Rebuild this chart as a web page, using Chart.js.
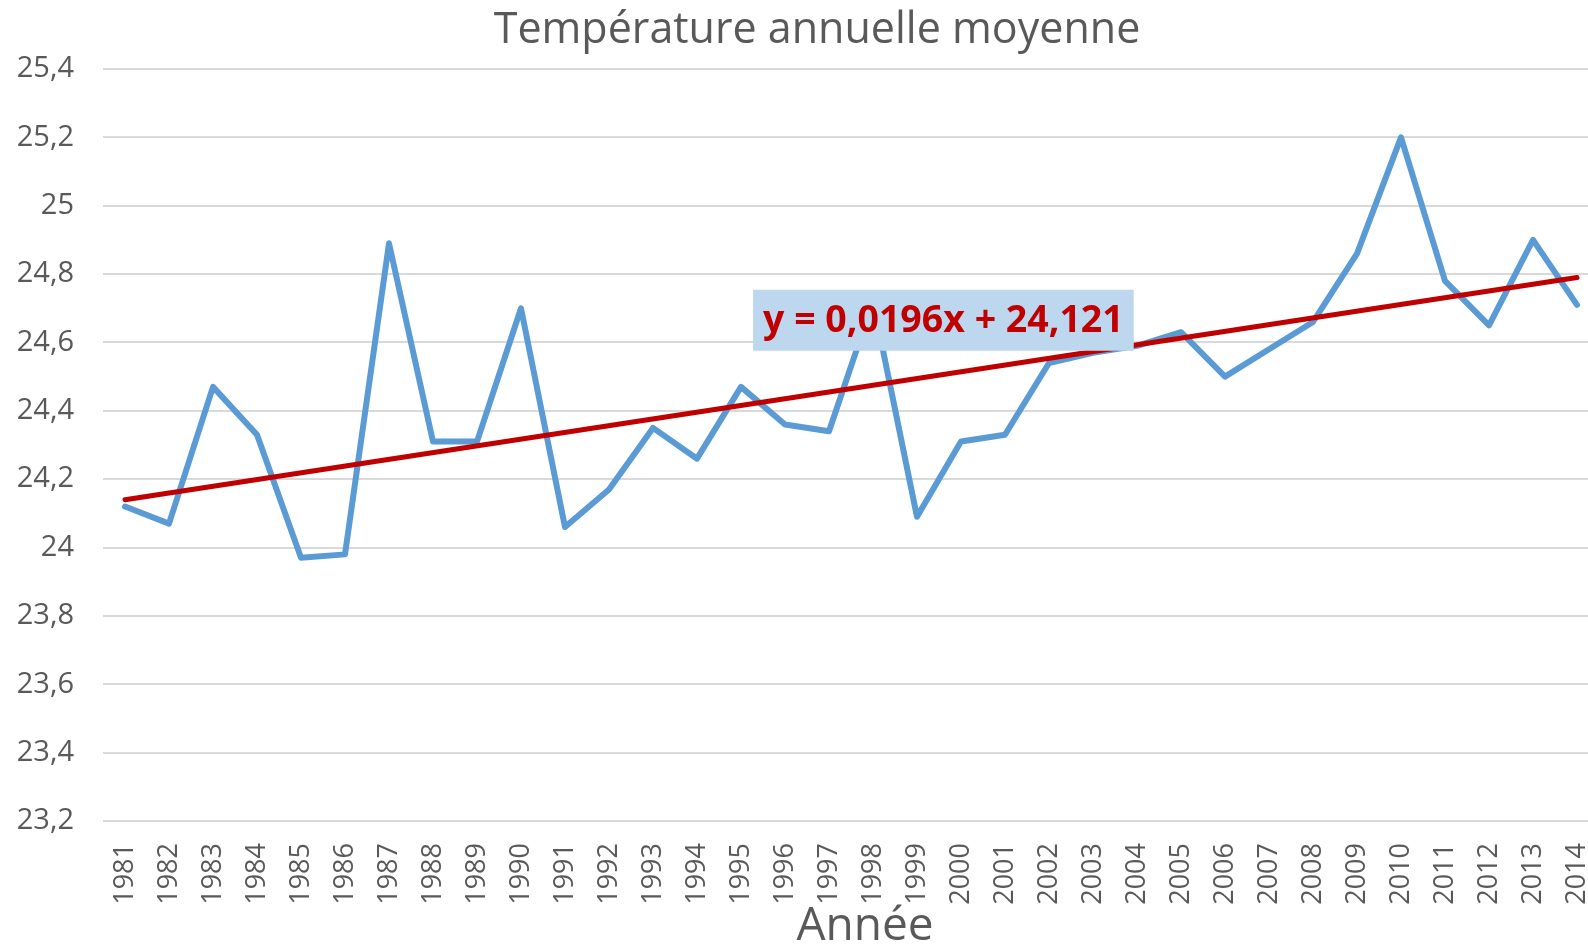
<!DOCTYPE html>
<html>
<head>
<meta charset="utf-8">
<script src="https://cdn.jsdelivr.net/npm/chart.js@4"></script>
<style>
  html, body { margin: 0; padding: 0; background: #fff; overflow: hidden; }
  #wrap { width: 1634px; height: 944px; }
</style>
</head>
<body>
<div id="wrap"><canvas id="temp-chart" width="1634" height="944"></canvas></div>
<script>
// Years on the category axis
const years = [
  "1981", "1982", "1983", "1984", "1985", "1986", "1987", "1988", "1989", "1990",
  "1991", "1992", "1993", "1994", "1995", "1996", "1997", "1998", "1999", "2000",
  "2001", "2002", "2003", "2004", "2005", "2006", "2007", "2008", "2009", "2010",
  "2011", "2012", "2013", "2014",
];

// Mean annual temperature
const temperatures = [
  24.12, 24.07, 24.47, 24.33, 23.97, 23.98, 24.89, 24.31, 24.31, 24.70,
  24.06, 24.17, 24.35, 24.26, 24.47, 24.36, 24.34, 24.72, 24.09, 24.31,
  24.33, 24.54, 24.57, 24.59, 24.63, 24.50, 24.58, 24.66, 24.86, 25.20,
  24.78, 24.65, 24.90, 24.71,
];

// Linear trend line: its two ends
const trendYears = ["1981", "2014"];
const trendValues = [24.14, 24.79];
const trendLabel = "y = 0,0196x + 24,121";

// Y axis range and step
const yMin = 23.2;
const yMax = 25.4;
const yStep = 0.2;

const chartTitle = "Température annuelle moyenne";
const xTitle = "Année";

const textColor = "#595959";
const fontFamily = "'Open Sans', sans-serif";

// Draws the equation box of the trend line, over the series
const trendLabelPlugin = {
  id: "trendLabel",
  afterDatasetsDraw(chart) {
    const { ctx, scales } = chart;
    const cx = scales.x.getPixelForValue(18.6); // between 1999 and 2000
    const cy = scales.y.getPixelForValue(24.665);
    ctx.save();
    ctx.font = "bold 37.5px " + fontFamily;
    const w = ctx.measureText(trendLabel).width + 20;
    const h = 61;
    ctx.fillStyle = "#BDD7EE";
    ctx.fillRect(cx - w / 2, cy - h / 2, w, h);
    ctx.fillStyle = "#C00000";
    ctx.textAlign = "center";
    ctx.textBaseline = "middle";
    ctx.fillText(trendLabel, cx, cy + 1);
    ctx.restore();
  },
};

// Chart title and axis title, placed like in the Excel original
// (a bit right of the plot centre)
const titlesPlugin = {
  id: "titles",
  afterDraw(chart) {
    const { ctx, chartArea } = chart;
    ctx.save();
    ctx.fillStyle = textColor;
    ctx.textAlign = "center";
    ctx.textBaseline = "alphabetic";
    ctx.font = "43px " + fontFamily;
    ctx.fillText(chartTitle, 817, chartArea.top - 26);
    ctx.font = "46px " + fontFamily;
    ctx.fillText(xTitle, 865, chart.height - 4);
    ctx.restore();
  },
};

const ctx = document.getElementById("temp-chart").getContext("2d");

const tempChart = new Chart(ctx, {
  type: "line",
  data: {
    labels: years,
    datasets: [
      {
        label: "Température",
        data: temperatures,
        borderColor: "#5B9BD5",
        borderWidth: 6,
        borderJoinStyle: "round",
        borderCapStyle: "round",
        pointRadius: 0,
        tension: 0,
        order: 2,
      },
      {
        label: "Tendance",
        data: trendYears.map((y, i) => ({ x: y, y: trendValues[i] })),
        borderColor: "#C00000",
        borderWidth: 5,
        borderCapStyle: "round",
        pointRadius: 0,
        order: 1,
      },
    ],
  },
  options: {
    responsive: false,
    animation: false,
    devicePixelRatio: 1,
    layout: {
      padding: { top: 69, right: 35, bottom: 0, left: 0 },
    },
    plugins: {
      legend: { display: false },
      tooltip: { enabled: false },
      title: { display: false },
    },
    scales: {
      x: {
        offset: true,
        grid: { display: false, drawTicks: false },
        border: { display: false },
        ticks: {
          color: textColor,
          font: { family: fontFamily, size: 27 },
          maxRotation: 90,
          minRotation: 90,
          autoSkip: false,
          padding: 22,
        },
        afterFit(scale) {
          scale.height = 123;
        },
      },
      y: {
        min: yMin,
        max: yMax,
        grid: { color: "#D9D9D9", lineWidth: 2, drawTicks: false },
        border: { display: false },
        ticks: {
          stepSize: yStep,
          color: textColor,
          font: { family: fontFamily, size: 29 },
          padding: 29,
          callback: (value) => String(Math.round(value * 10) / 10).replace(".", ","),
        },
        afterFit(scale) {
          scale.width = 103;
        },
      },
    },
  },
  plugins: [trendLabelPlugin, titlesPlugin],
});
</script>
</body>
</html>
